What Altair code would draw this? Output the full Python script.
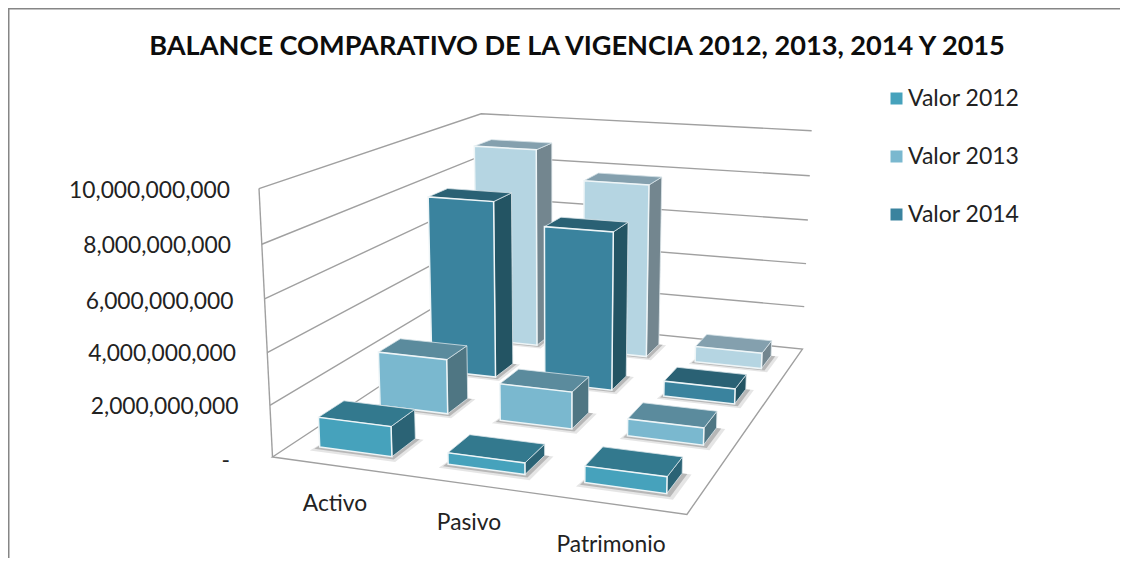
import numpy as np
import pandas as pd
import altair as alt

TITLE = "BALANCE COMPARATIVO DE LA VIGENCIA 2012, 2013, 2014 Y 2015"
categories = ["Activo", "Pasivo", "Patrimonio"]
series_names = ["Valor 2012", "Valor 2013", "Valor 2014", "Valor 2015"]
legend_names = ["Valor 2012", "Valor 2013", "Valor 2014"]
valor_2012 = [1.17e9, 0.44e9, 0.62e9]
valor_2013 = [2.25e9, 1.50e9, 0.68e9]
valor_2014 = [7.65e9, 6.75e9, 0.64e9]
valor_2015 = [9.05e9, 7.80e9, 0.70e9]
values = [valor_2012, valor_2013, valor_2014, valor_2015]
tick_values = [0, 2e9, 4e9, 6e9, 8e9, 10e9]
tick_labels = ["-", "2,000,000,000", "4,000,000,000", "6,000,000,000", "8,000,000,000", "10,000,000,000"]
tick_right = [230, 238.5, 236, 233.5, 231, 230]
tick_y = [461, 407, 354, 302, 246, 191]
cat_label_pos = [(335, 504), (469, 523), (611, 545)]

front_colors = ["#46a2bc", "#7ab8cf", "#3a839e", "#b5d5e2"]
top_colors = ["#33798e", "#5b8b9d", "#2a6174", "#84a0ae"]
side_colors = ["#2b6375", "#4f7683", "#235463", "#73868f"]

W, H = 1112, 550
FONT = "Lato"
BAR_W, BAR_D = 0.57, 0.40
VMAX = 10e9

# camera calibration: (u, v, w) box coordinates -> picture
calib = [
    (0, 0, 0, 272, 458), (1, 0, 0, 687, 514), (1, 0, 1, 802, 349), (0, 0, 1, 485, 317),
    (0, 1, 0, 259, 189), (0, 1, 1, 480, 114), (1, 1, 1, 812, 130),
    (0, .2, 0, 269, 405), (0, .4, 0, 267, 352), (0, .6, 0, 265, 299), (0, .8, 0, 263, 244),
    (1, .2, 1, 804, 307), (1, .4, 1, 806, 264), (1, .6, 1, 808, 220), (1, .8, 1, 810, 176),
]
A, b = [], []
for u, v, w, x, y in calib:
    A.append([u, v, w, 1, 0, 0, 0, 0, -x * u, -x * v, -x * w]); b.append(x)
    A.append([0, 0, 0, 0, u, v, w, 1, -y * u, -y * v, -y * w]); b.append(y)
P = np.append(np.linalg.lstsq(np.array(A, float), np.array(b, float), rcond=None)[0], 1).reshape(3, 4)


def project(u, v, w):
    q = P @ np.array([u, v, w, 1.0])
    return q[0] / q[2], q[1] / q[2]


lines = []
gid = 0


def poly(rows_out, pts, fill, stroke, sw=1.2, op=1.0):
    global gid
    gid += 1
    for k, (u, v, w) in enumerate(pts):
        x, y = project(u, v, w)
        rows_out.append(dict(g=f"{gid:04d}", k=k, x=x, y=y, fill=fill, stroke=stroke, sw=sw, op=op))


def polyline(pts):
    global gid
    gid += 1
    for k, (u, v, w) in enumerate(pts):
        x, y = project(u, v, w)
        lines.append(dict(g=f"{gid:04d}", k=k, x=x, y=y))


# walls and floor
GRID = "#a0a0a0"
for t in tick_values[1:]:
    v = t / VMAX
    polyline([(0, v, 0), (0, v, 1), (1, v, 1)])
polyline([(0, 1, 0), (0, 0, 0)])
polyline([(0, 0, 1), (0, 0, 0), (1, 0, 0), (1, 0, 1), (0, 0, 1)])

# boxes, back to front
shadows, faces = [], []
for j in range(3, -1, -1):
    for i in range(2, -1, -1):
        val = values[j][i] / VMAX
        u0 = (i + .5 - BAR_W / 2) / 3
        u1 = (i + .5 + BAR_W / 2) / 3
        w0 = (j + .5 - BAR_D / 2) / 4
        w1 = (j + .5 + BAR_D / 2) / 4
        for grow, op in ((.022, .10), (.012, .20)):
            poly(shadows, [(u0 - grow / 2, 0, w0 - grow), (u1 + grow, 0, w0 - grow),
                           (u1 + grow, 0, w1), (u0, 0, w1)], "#000000", "none", 0, op)
        poly(faces, [(u1, 0, w0), (u1, 0, w1), (u1, val, w1), (u1, val, w0)], side_colors[j], "#dde6ea", 0.8)
        poly(faces, [(u0, val, w0), (u1, val, w0), (u1, val, w1), (u0, val, w1)], top_colors[j], "#d5e2e7", 0.8)
        poly(faces, [(u0, 0, w0), (u1, 0, w0), (u1, val, w0), (u0, val, w0)], front_colors[j], "#eef5f7", 1.5)

xs = alt.Scale(domain=[8, 8 + W], range=[0, W], nice=False, zero=False)
ys = alt.Scale(domain=[8, 8 + H], range=[0, H], nice=False, zero=False)
X = alt.X("x:Q", scale=xs, axis=None)
Y = alt.Y("y:Q", scale=ys, axis=None)

border = alt.Chart(pd.DataFrame(dict(g=["b"] * 3, k=[0, 1, 2], x=[8.5, 8.5, 8 + W], y=[8 + H, 8.5, 8.5]))).mark_line(
    color="#868686", strokeWidth=2).encode(x=X, y=Y, detail="g:N", order="k:Q")

wall = alt.Chart(pd.DataFrame(lines)).mark_line(color=GRID, strokeWidth=1.4).encode(
    x=X, y=Y, detail="g:N", order="k:Q")


def polys(df):
    return alt.Chart(pd.DataFrame(df)).mark_line(interpolate="linear-closed").encode(
        x=X, y=Y, detail="g:N", order="k:Q",
        fill=alt.Fill("fill:N", scale=None, legend=None),
        stroke=alt.Stroke("stroke:N", scale=None, legend=None),
        strokeWidth=alt.StrokeWidth("sw:Q", scale=None, legend=None),
        opacity=alt.Opacity("op:Q", scale=None, legend=None),
    )


shadow_layer = polys(shadows)
face_layer = polys(faces)

tick_df = pd.DataFrame(dict(x=tick_right, y=tick_y, t=tick_labels))
ticks = alt.Chart(tick_df).mark_text(align="right", baseline="middle", font=FONT, fontSize=22.8, color="#222222").encode(
    x=X, y=Y, text="t:N")

cat_df = pd.DataFrame(dict(x=[p[0] for p in cat_label_pos], y=[p[1] for p in cat_label_pos], t=categories))
cats = alt.Chart(cat_df).mark_text(align="center", baseline="middle", font=FONT, fontSize=22.8, color="#222222").encode(
    x=X, y=Y, text="t:N")

title = alt.Chart(pd.DataFrame(dict(x=[577], y=[47], t=[TITLE]))).mark_text(
    align="center", baseline="middle", font=FONT, fontWeight="bold", fontSize=27.15, color="#0d0d0d").encode(
    x=X, y=Y, text="t:N")

legend_layer = alt.Chart(pd.DataFrame(dict(s=legend_names, x=[300] * 3, y=[300] * 3))).mark_square(opacity=0).encode(
    x=X, y=Y,
    color=alt.Color("s:N", scale=alt.Scale(domain=legend_names, range=front_colors[:3]),
                    legend=alt.Legend(title=None, orient="none", legendX=877, legendY=79, padding=0,
                                      symbolType="square", symbolSize=144, symbolOpacity=1, symbolStrokeWidth=0,
                                      labelFont=FONT, labelFontSize=23, labelColor="#222222",
                                      rowPadding=34, labelOffset=0, symbolOffset=0)),
)

chart = alt.layer(
    border, wall, shadow_layer, face_layer, ticks, cats, title, legend_layer
).properties(width=W, height=H, padding=0, background="white",
             autosize=alt.AutoSizeParams(type="none")).configure_view(stroke=None)

chart.save("out.html", embed_options={"renderer": "svg", "actions": False})
